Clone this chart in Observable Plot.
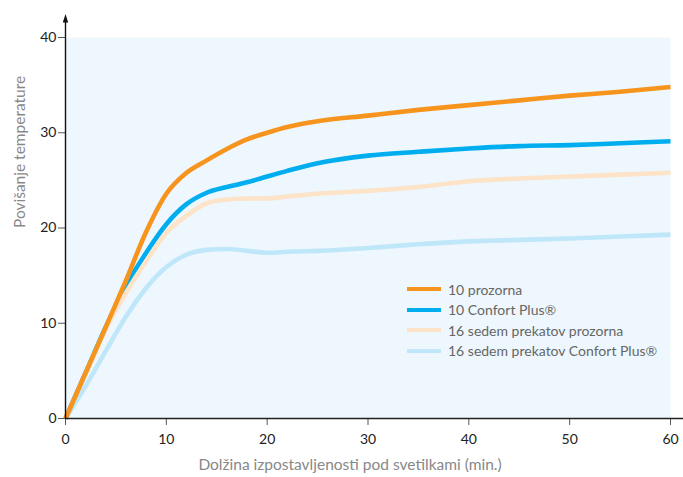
<!DOCTYPE html>
<html><head><meta charset="utf-8">
<script src="https://cdn.jsdelivr.net/npm/d3@7"></script>
<script src="https://cdn.jsdelivr.net/npm/@observablehq/plot@0.6"></script>
<style>
body{margin:0;background:#fff;font-family:Lato,"Noto Sans",sans-serif}
#chart{position:relative;width:683px;height:477px}
#legend{position:absolute;left:407px;top:279px;width:263px;font-size:14px;color:#666}
#legend .row{display:flex;align-items:center;height:20.5px}
#legend .sw{width:34px;height:4px;margin-right:7px}
#legend .box{position:absolute;left:40px;top:-7px;width:223px;height:97px;background:#f3f9fd;z-index:-1}
</style>
</head><body>
<div id="chart"><div id="legend"></div></div>
<script>
const minutes = [0,2,4,6,8,10,12,14,16,18,20,22,25,30,35,40,45,50,55,60];
const prozorna10      = [0,4.8,9.6,14.5,19.6,23.6,25.8,27.1,28.3,29.3,30.0,30.6,31.2,31.8,32.4,32.9,33.4,33.9,34.3,34.8];
const confortPlus10   = [0,4.8,9.6,13.9,17.4,20.4,22.5,23.7,24.3,24.8,25.4,26.0,26.8,27.6,28.0,28.35,28.6,28.7,28.9,29.1];
const prozorna16      = [0,4.7,9.4,13.2,16.5,19.5,21.3,22.6,23.0,23.1,23.1,23.3,23.6,23.9,24.3,24.9,25.2,25.4,25.6,25.8];
const confortPlus16   = [0,3.4,7.1,10.7,13.7,15.9,17.2,17.7,17.8,17.6,17.4,17.5,17.6,17.9,18.3,18.6,18.75,18.9,19.1,19.3];

const seriesNames  = ["10 prozorna","10 Confort Plus®","16 sedem prekatov prozorna","16 sedem prekatov Confort Plus®"];
const seriesValues = [prozorna10, confortPlus10, prozorna16, confortPlus16];
const seriesColors = ["#f7941d","#00aeef","#fde3c7","#bfe7f9"];
const drawOrder    = [3,1,2,0];

const xTicks = [0,10,20,30,40,50,60];
const yTicks = [0,10,20,30,40];
const xLabel = "Dolžina izpostavljenosti pod svetilkami (min.)";
const yLabel = "Povišanje temperature";

const data = [];
for (const i of drawOrder) minutes.forEach((t,j)=>data.push({t, v:seriesValues[i][j], s:seriesNames[i]}));

const xMax = xTicks[xTicks.length-1], yMax = yTicks[yTicks.length-1];
const arrowUp = {draw(ctx,size){const s=Math.sqrt(size);ctx.moveTo(0,-s);ctx.lineTo(s*0.38,s*0.2);ctx.lineTo(-s*0.38,s*0.2);ctx.closePath();}};

const chart = Plot.plot({
  width:683, height:477,
  marginLeft:65, marginRight:13, marginTop:37, marginBottom:59,
  style:{fontFamily:"Lato, 'Noto Sans', sans-serif", fontSize:"14px", background:"transparent", overflow:"visible"},
  x:{domain:[0,xMax]},
  y:{domain:[0,yMax]},
  color:{domain:seriesNames, range:seriesColors},
  marks:[
    Plot.frame({fill:"#eef7fd", stroke:null}),
    Plot.line(data,{x:"t", y:"v", z:"s", stroke:"s", strokeWidth:4.6, curve:"monotone-x", strokeLinecap:"butt"}),
    Plot.axisX({ticks:xTicks, tickSize:7, tickPadding:9, fontSize:14, label:null, color:"#222", stroke:"#555"}),
    Plot.axisY({ticks:yTicks, tickSize:7, tickPadding:2, fontSize:14, label:null, color:"#222", stroke:"#555"}),
    Plot.ruleY([0],{x1:0, x2:xMax*1.022, stroke:"#222", strokeWidth:1.4}),
    Plot.ruleX([0],{y1:0, y2:yMax*1.04, stroke:"#111", strokeWidth:1.4}),
    Plot.dot([0],{x:0, y:()=>yMax*1.043, symbol:arrowUp, r:4, fill:"#111", stroke:null}),
    Plot.text([xLabel],{frameAnchor:"bottom", dx:-18, dy:51, fontSize:15.5, fill:"#888", text:d=>d}),
    Plot.text([yLabel],{frameAnchor:"left", dx:-45, rotate:-90, fontSize:15.5, fill:"#888", text:d=>d})
  ]
});
document.getElementById("chart").prepend(chart);

const lg = document.getElementById("legend");
lg.innerHTML = '<div class="box"></div>' + seriesNames.map((n,i)=>`<div class="row"><div class="sw" style="background:${seriesColors[i]}"></div><span>${n}</span></div>`).join("");
</script>
</body></html>
